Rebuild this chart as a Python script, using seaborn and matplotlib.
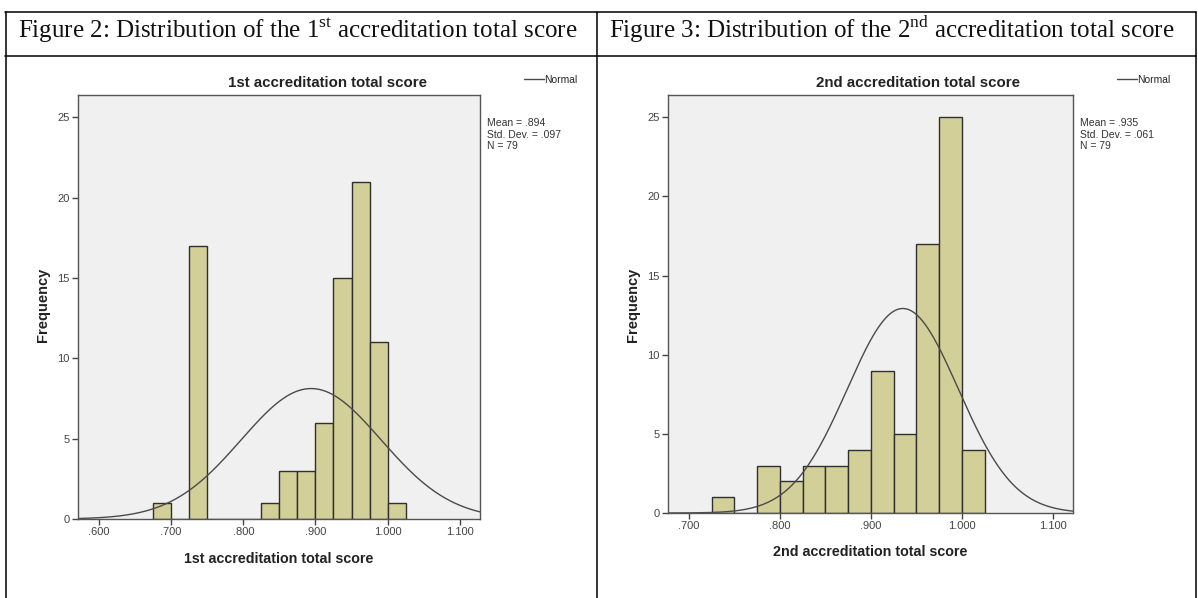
import numpy as np
import pandas as pd
import matplotlib
matplotlib.use("Agg")
import matplotlib.pyplot as plt
from matplotlib.lines import Line2D
from matplotlib.ticker import FuncFormatter
import seaborn as sns

# Datos
bin_width = 0.025
bins1_left = [0.675, 0.725, 0.825, 0.850, 0.875, 0.900, 0.925, 0.950, 0.975, 1.000]
counts1 = [1, 17, 1, 3, 3, 6, 15, 21, 11, 1]
bins2_left = [0.725, 0.775, 0.800, 0.825, 0.850, 0.875, 0.900, 0.925, 0.950, 0.975, 1.000]
counts2 = [1, 3, 2, 3, 3, 4, 9, 5, 17, 25, 4]

mean1, sd1, n1 = 0.894, 0.097, 79
mean2, sd2, n2 = 0.935, 0.061, 79

x_ticks1 = [0.6, 0.7, 0.8, 0.9, 1.0, 1.1]
x_ticks2 = [0.7, 0.8, 0.9, 1.0, 1.1]
y_ticks = [0, 5, 10, 15, 20, 25]

titles = ["1st accreditation total score", "2nd accreditation total score"]
headers = [r"Figure 2: Distribution of the 1$^{\rm st}$ accreditation total score",
           r"Figure 3: Distribution of the 2$^{\rm nd}$ accreditation total score"]

# Estilo
sns.set_theme(style="ticks")
plt.rcParams["font.family"] = ["Liberation Sans", "DejaVu Sans"]
plt.rcParams["mathtext.fontset"] = "custom"
plt.rcParams["mathtext.rm"] = "Liberation Serif"

W, H = 1198, 598
fig = plt.figure(figsize=(W / 100, H / 100), dpi=100)
fig.patch.set_facecolor("white")


def fx(x):
    return x / W


def fy(y):
    return 1 - y / H


# Tabla (bordes)
tabla = [((5, 1196), (12, 12)), ((5, 1196), (56, 56)),
         ((6, 6), (12, 598)), ((597, 597), (12, 598)), ((1196, 1196), (12, 598))]
for xs, ys in tabla:
    fig.add_artist(Line2D([fx(xs[0]), fx(xs[1])], [fy(ys[0]), fy(ys[1])],
                          color="black", lw=1.1))

fig.text(fx(18), fy(30), headers[0], fontsize=18, family="Liberation Serif",
         va="center", ha="left", color="#111")
fig.text(fx(609), fy(30), headers[1], fontsize=18, family="Liberation Serif",
         va="center", ha="left", color="#111")

paneles = [
    dict(rect=(78, 95, 480, 519), bins=bins1_left, counts=counts1, mean=mean1, sd=sd1, n=n1,
         xlim=(0.571, 1.128), xticks=x_ticks1, title=titles[0], title_x=327,
         leg_x=524, stats_x=487, ylab_x=43, xlab_y=559),
    dict(rect=(668, 95, 1073, 513), bins=bins2_left, counts=counts2, mean=mean2, sd=sd2, n=n2,
         xlim=(0.677, 1.122), xticks=x_ticks2, title=titles[1], title_x=918,
         leg_x=1117, stats_x=1080, ylab_x=633, xlab_y=552),
]

for p in paneles:
    l, t, r, b = p["rect"]
    ax = fig.add_axes([fx(l), fy(b), (r - l) / W, (b - t) / H])
    ax.set_facecolor("#f0f0f0")

    df = pd.DataFrame({"centro": np.array(p["bins"]) + bin_width / 2, "n": p["counts"]})
    sns.histplot(data=df, x="centro", weights="n", binwidth=bin_width,
                 binrange=(p["bins"][0], p["bins"][-1] + bin_width), ax=ax,
                 color="#d3cf98", edgecolor="#303030", linewidth=1, alpha=1)

    xs = np.linspace(p["xlim"][0], p["xlim"][1], 400)
    ys = p["n"] * bin_width * np.exp(-0.5 * ((xs - p["mean"]) / p["sd"]) ** 2) / (p["sd"] * np.sqrt(2 * np.pi))
    sns.lineplot(x=xs, y=ys, ax=ax, color="#4a4a4a", lw=1, label="Normal")

    ax.set_xlim(p["xlim"])
    ax.set_ylim(0, 26.4)
    ax.set_xticks(p["xticks"])
    ax.set_yticks(y_ticks)
    ax.xaxis.set_major_formatter(FuncFormatter(lambda v, pos: f"{v:.3f}".lstrip("0")))
    ax.tick_params(axis="both", labelsize=8, colors="#444", length=4, width=1, pad=2)
    for s in ax.spines.values():
        s.set_color("#555")
        s.set_linewidth(1)
    ax.set_xlabel("")
    ax.set_ylabel("")

    ax.legend(loc="center left", bbox_to_anchor=(fx(p["leg_x"]), fy(80)),
              bbox_transform=fig.transFigure, frameon=False, fontsize=7.4,
              handlelength=1.9, handletextpad=0.1, borderpad=0, borderaxespad=0)

    fig.text(fx(p["title_x"]), fy(83), p["title"],
             fontsize=10.8, fontweight="bold", ha="center", va="center", color="#222")
    fig.text(fx((l + r) / 2), fy(p["xlab_y"]), p["title"],
             fontsize=10.3, fontweight="bold", ha="center", va="center", color="#222")
    fig.text(fx(p["ylab_x"]), fy(305), "Frequency", rotation=90,
             fontsize=10.5, fontweight="bold", ha="center", va="center", color="#222")
    stats = f"Mean = {p['mean']:.3f}".replace("0.", ".") + "\n" + \
            f"Std. Dev. = {p['sd']:.3f}".replace("0.", ".") + f"\nN = {p['n']}"
    fig.text(fx(p["stats_x"]), fy(118), stats, fontsize=7.5, ha="left", va="top",
             color="#333", linespacing=1.2)

fig.savefig("out.png", dpi=100)
